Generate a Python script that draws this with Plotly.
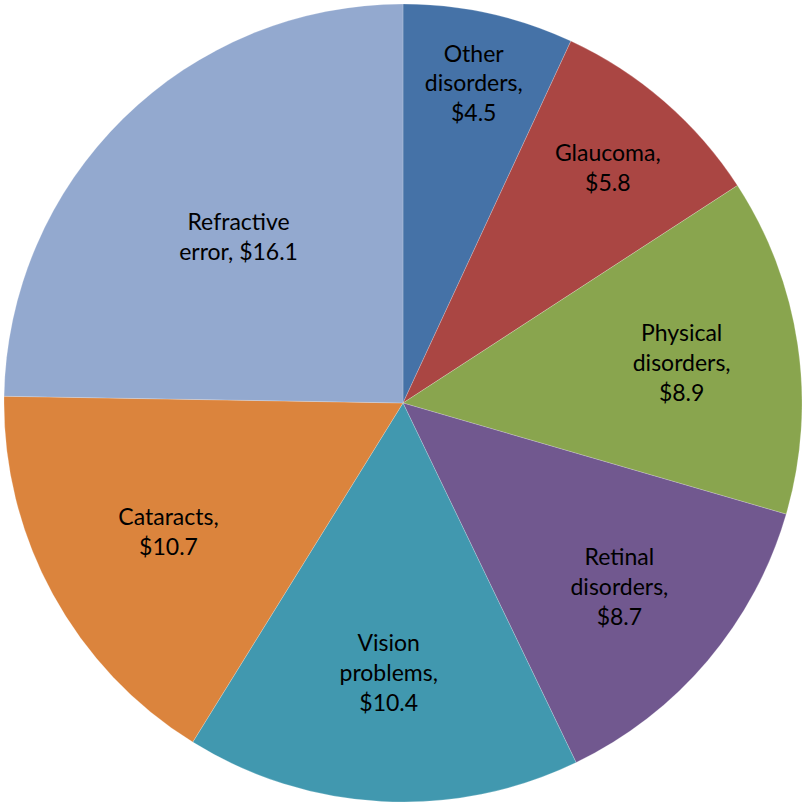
import plotly.graph_objects as go

categories = ["Other disorders", "Glaucoma", "Physical disorders", "Retinal disorders",
              "Vision problems", "Cataracts", "Refractive error"]
values = [4.5, 5.8, 8.9, 8.7, 10.4, 10.7, 16.1]
label_text = ["Other<br>disorders,<br>$4.5", "Glaucoma,<br>$5.8", "Physical<br>disorders,<br>$8.9",
              "Retinal<br>disorders,<br>$8.7", "Vision<br>problems,<br>$10.4", "Cataracts,<br>$10.7",
              "Refractive<br>error, $16.1"]
colors = ["#4572A7", "#AA4643", "#89A54E", "#71588F", "#4198AF", "#DB843D", "#93A9CF"]

fig = go.Figure(go.Pie(
    labels=categories,
    values=values,
    text=label_text,
    textinfo="text",
    texttemplate="%{text}",
    textposition="inside",
    insidetextorientation="horizontal",
    sort=False,
    direction="clockwise",
    rotation=0,
    marker=dict(colors=colors, line=dict(width=0.5, color="rgba(255,255,255,0.4)")),
    textfont=dict(family="Lato, Open Sans, sans-serif", size=23, color="black"),
    hoverinfo="label+value",
    showlegend=False,
    domain=dict(x=[4 / 802, 1.0], y=[1 / 804, 801 / 804]),
))
fig.update_layout(
    width=802, height=804,
    margin=dict(l=0, r=0, t=0, b=0),
    paper_bgcolor="white",
    uniformtext=dict(minsize=23, mode="show"),
)
fig.write_html(
    "out.html",
    config={"displayModeBar": False},
    post_script="document.body.style.margin='0';document.body.style.overflow='hidden';",
)
